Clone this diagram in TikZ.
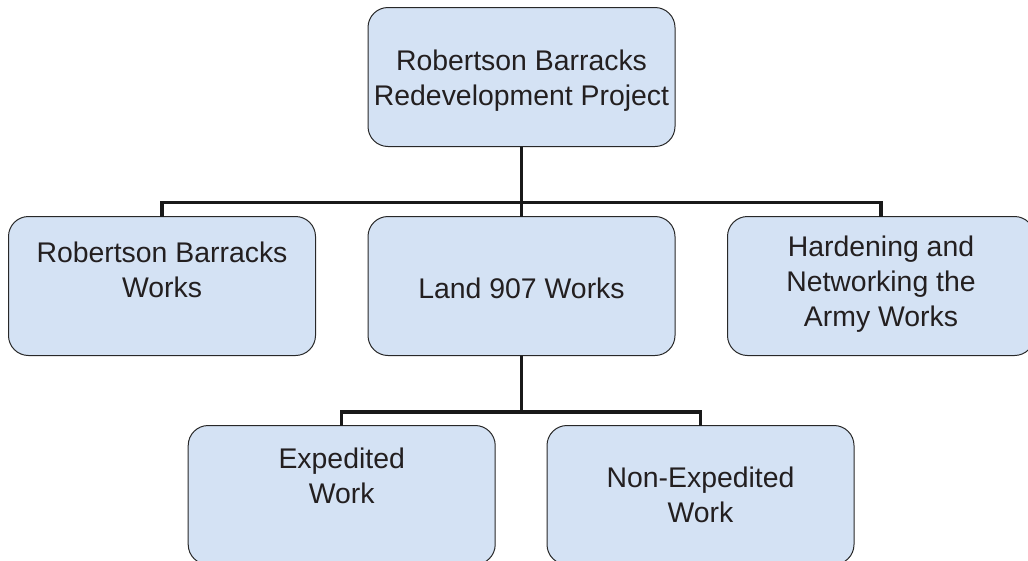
\documentclass[tikz,border=0pt]{standalone}
\usepackage{fontspec}
\setmainfont{Liberation Sans}
\definecolor{boxfill}{RGB}{212,226,244}
\definecolor{boxline}{RGB}{40,40,40}
\definecolor{txtcol}{RGB}{35,31,32}
\begin{document}
\begin{tikzpicture}[x=1pt,y=-1pt,
  box/.style={draw=boxline,fill=boxfill,line width=1pt,rounded corners=20pt,
    minimum width=307pt,minimum height=139pt,inner sep=0pt,outer sep=0pt},
  txt/.style={text=txtcol,align=center,font=\fontsize{28.4}{35}\selectfont,inner sep=0pt},
  conn/.style={draw=black!90,line width=3.2pt}]
\useasboundingbox (0,0) rectangle (1028,560);
\clip (0,0) rectangle (1028,560);
\node[box] (top) at (521.5,77) {};
\node[box] (rb) at (162,286) {};
\node[box] (land) at (521.5,286) {};
\node[box] (hw) at (881,286) {};
\node[box] (exp) at (341.7,495) {};
\node[box] (nexp) at (700.5,495) {};
\node[txt] (ttop) at ([yshift=-4pt]top.center) {Robertson Barracks\\Redevelopment Project};
\node[txt] (trb) at ([yshift=16pt]rb.center) {Robertson Barracks\\Works};
\node[txt] (tland) at ([yshift=-2pt]land.center) {Land 907 Works};
\node[txt] (thw) at ([yshift=2pt]hw.center) {Hardening and\\Networking the\\ Army Works};
\node[txt] (texp) at ([yshift=19pt]exp.center) {Expedited\\Work};
\node[txt] (tnexp) at ([yshift=0pt]nexp.center) {Non-Expedited\\Work};
\draw[conn] (top.south) -- (land.north);
\draw[conn] (rb.north) -- ++(0,-14) -| (hw.north);
\draw[conn] (land.south) -- ++(0,55.5) coordinate (j2);
\draw[conn] (exp.north) -- ++(0,-13.5) -| (nexp.north);
\end{tikzpicture}
\end{document}
